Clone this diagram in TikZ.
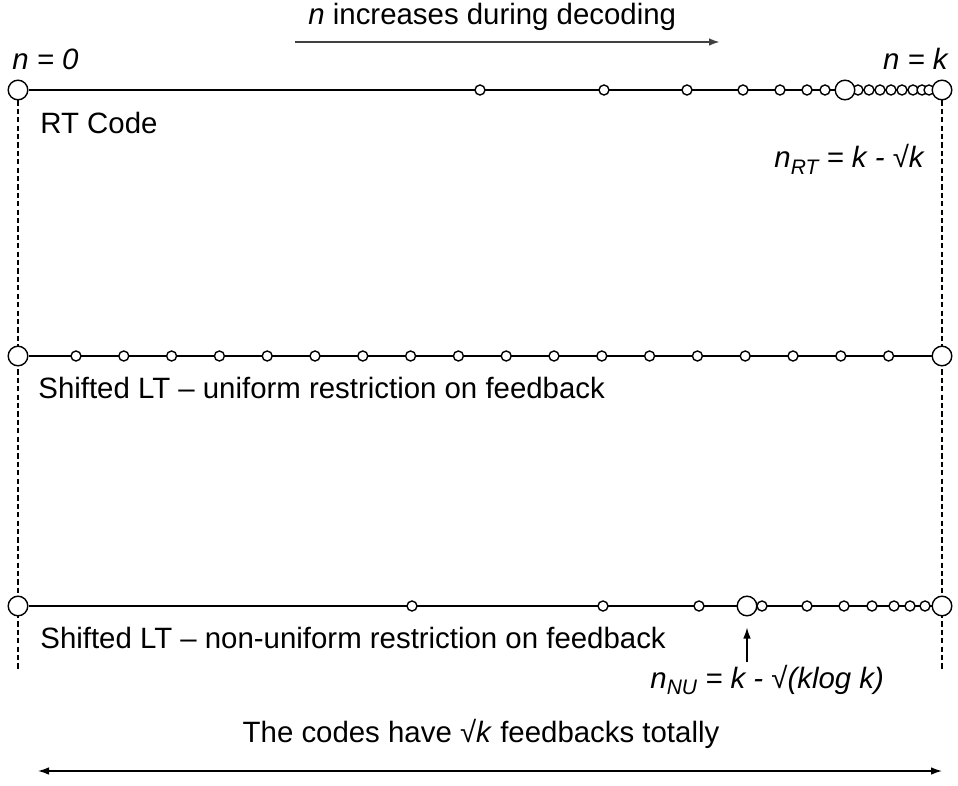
\documentclass[tikz,border=0pt]{standalone}
\usepackage{fontspec}
\setmainfont{Liberation Sans}
\usetikzlibrary{arrows.meta}
\pgfdeclarelayer{bg}
\pgfsetlayers{bg,main}
\newcommand\mysub[1]{\raisebox{-0.45ex}{\fontsize{10.5}{10.5}\selectfont #1}}
\begin{document}
\begin{tikzpicture}[x=0.5pt,y=-0.5pt,
  small/.style={circle,draw,fill=white,line width=0.7pt,minimum size=5pt,inner sep=0pt},
  big/.style={circle,draw,fill=white,line width=0.7pt,minimum size=9.8pt,inner sep=0pt},
  lbl/.style={anchor=base west,inner sep=0pt,font=\fontsize{14.7}{17}\selectfont},
  rowline/.style={line width=0.7pt},
  guide/.style={line width=0.55pt,dash pattern=on 2.6pt off 1.6pt},
  arr/.style={line width=0.7pt,-{Latex[length=5.5pt,width=3.8pt]}}]
\useasboundingbox (0,0) rectangle (958,786);

% ---- row 1: RT code
\foreach \x [count=\i] in {480,604,687,743,780,807,825,858,869,880,891,902,913,922,929}
  \node[small] (as\i) at (\x,90) {};
\node[big] (a0) at (18,90) {};
\node[big] (am) at (845,90) {};
\node[big] (a1) at (942,90) {};

% ---- row 2: uniform
\foreach \i in {0,...,17}
  \node[small] (bs\i) at ({76+47.8*\i},356) {};
\node[big] (b0) at (18,356) {};
\node[big] (b1) at (942,356) {};

% ---- row 3: non-uniform
\foreach \x [count=\i] in {412,603,699,762,807,844,872,894,910,925}
  \node[small] (cs\i) at (\x,606) {};
\node[big] (c0) at (18,606) {};
\node[big] (cm) at (747,606) {};
\node[big] (c1) at (942,606) {};

% ---- guides and row lines
\coordinate (dl) at (18,670);
\coordinate (dr) at (942,670);
\begin{pgfonlayer}{bg}
  \draw[rowline] (a0) -- (a1);
  \draw[rowline] (b0) -- (b1);
  \draw[rowline] (c0) -- (c1);
  \draw[guide] (a0) -- (dl);
  \draw[guide] (a1) -- (dr);
\end{pgfonlayer}

% ---- texts
\node[lbl] (top) at (308,25) {\textit{n} increases during decoding};
\coordinate (ta) at (295,42);
\coordinate (tb) at (720,42);
\draw[line width=1pt,black!75,-{Latex[length=5.5pt,width=3.8pt]}] (ta) -- (tb);

\node[lbl] (n0) at (12,70) {\itshape n = 0};
\node[lbl,anchor=base east] (nk) at (948,70) {\itshape n = k};

\node[lbl] (rt) at (40,134) {RT Code};
\node[lbl,anchor=base east] (nrt) at (924,168) {\itshape n\mysub{RT} = k - √k};

\node[lbl] (ul) at (38,398) {Shifted LT – uniform restriction on feedback};
\node[lbl] (nul) at (40,648) {Shifted LT – non-uniform restriction on feedback};

\node[lbl] (nnu) at (650,688) {\itshape n\mysub{NU} = k - √(klog k)};
\coordinate (na) at (747,662);
\draw[arr,shorten >=5.5pt] (na) -- (cm);

\node[lbl,anchor=base] (tot) at (481,742) {The codes have √\textit{k} feedbacks totally};
\coordinate (bl) at (38,771);
\coordinate (br) at (942,771);
\draw[line width=0.7pt,{Latex[length=5.5pt,width=3.8pt]}-{Latex[length=5.5pt,width=3.8pt]}] (bl) -- (br);
\end{tikzpicture}
\end{document}
